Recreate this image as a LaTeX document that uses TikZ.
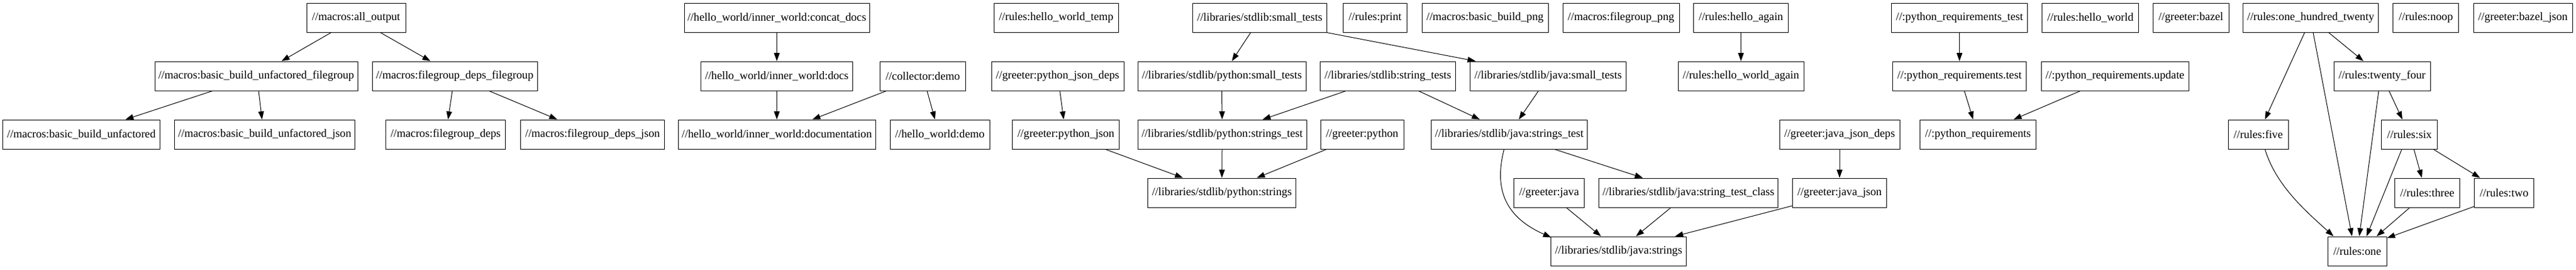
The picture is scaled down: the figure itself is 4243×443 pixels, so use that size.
\documentclass[tikz,border=0pt]{standalone}
\usepackage{fontspec}
\setmainfont{Liberation Serif}
\usetikzlibrary{arrows.meta}
\begin{document}
\begin{tikzpicture}[x=0.75pt,y=-0.75pt,
  box/.style={draw, line width=0.75pt, rectangle, minimum height=36pt, inner xsep=3pt, inner ysep=0pt, font=\fontsize{14}{16}\selectfont, anchor=center},
  bw/.style={minimum width=#1*0.75pt},
  arr/.style={-{Triangle[length=10pt,width=7pt]}, line width=0.75pt}]
\fill[white] (0,0) rectangle (4243,443);
\useasboundingbox (0,0) rectangle (4243,443);
% Row 1
\node[box,bw=163] (ao) at (586.5,29) {//macros:all\_output};
\node[box,bw=305] (cd) at (1279.5,29) {//hello\_world/inner\_world:concat\_docs};
\node[box,bw=205] (hwt) at (1739.6,29) {//rules:hello\_world\_temp};
\node[box,bw=221] (st) at (2075,29) {//libraries/stdlib:small\_tests};
\node[box,bw=105.6] (print) at (2265,29) {//rules:print};
\node[box,bw=208] (bbp) at (2446,29) {//macros:basic\_build\_png};
\node[box,bw=192] (fgp) at (2670,29) {//macros:filegroup\_png};
\node[box,bw=156] (ha) at (2867.5,29) {//rules:hello\_again};
\node[box,bw=224.5] (prt) at (3227.5,29) {//:python\_requirements\_test};
\node[box,bw=159] (hw) at (3443,29) {//rules:hello\_world};
\node[box,bw=124.6] (gb) at (3608.7,29) {//greeter:bazel};
\node[box,bw=223.7] (oht) at (3806,29) {//rules:one\_hundred\_twenty};
\node[box,bw=108] (noop) at (3995.7,29) {//rules:noop};
\node[box,bw=163] (gbj) at (4155.5,29) {//greeter:bazel\_json};
% Row 2
\node[box,bw=334] (bbuf) at (422,125) {//macros:basic\_build\_unfactored\_filegroup};
\node[box,bw=272] (fdf) at (749,125) {//macros:filegroup\_deps\_filegroup};
\node[box,bw=250] (docs) at (1279.5,125) {//hello\_world/inner\_world:docs};
\node[box,bw=140.5] (coll) at (1520,125) {//collector:demo};
\node[box,bw=218] (pjd) at (1742,125) {//greeter:python\_json\_deps};
\node[box,bw=277] (pst) at (2012.5,125) {//libraries/stdlib/python:small\_tests};
\node[box,bw=222.7] (strt) at (2286,125) {//libraries/stdlib:string\_tests};
\node[box,bw=256.7] (jst) at (2550,125) {//libraries/stdlib/java:small\_tests};
\node[box,bw=207] (hwa) at (2867.5,125) {//rules:hello\_world\_again};
\node[box,bw=220] (prtest) at (3227.5,125) {//:python\_requirements.test};
\node[box,bw=243] (pru) at (3483.6,125) {//:python\_requirements.update};
\node[box,bw=159] (tf) at (3923.6,125) {//rules:twenty\_four};
% Row 3
\node[box,bw=259] (bbu) at (134,221) {//macros:basic\_build\_unfactored};
\node[box,bw=297.5] (bbuj) at (436,221) {//macros:basic\_build\_unfactored\_json};
\node[box,bw=197.5] (fd) at (734,221) {//macros:filegroup\_deps};
\node[box,bw=236.5] (fdj) at (976,221) {//macros:filegroup\_deps\_json};
\node[box,bw=325] (doc) at (1279.5,221) {//hello\_world/inner\_world:documentation};
\node[box,bw=164] (hwd) at (1548,221) {//hello\_world:demo};
\node[box,bw=176] (pj) at (1755.6,221) {//greeter:python\_json};
\node[box,bw=278] (pystt) at (2013,221) {//libraries/stdlib/python:strings\_test};
\node[box,bw=137] (gp) at (2243.6,221) {//greeter:python};
\node[box,bw=257.6] (jstt) at (2486,221) {//libraries/stdlib/java:strings\_test};
\node[box,bw=198] (jjd) at (3030,221) {//greeter:java\_json\_deps};
\node[box,bw=190.5] (pr) at (3258,221) {//:python\_requirements};
\node[box,bw=99] (five) at (3719.6,221) {//rules:five};
\node[box,bw=92] (six) at (3968.7,221) {//rules:six};
% Row 4
\node[box,bw=243.6] (pys) at (2012.6,317) {//libraries/stdlib/python:strings};
\node[box,bw=116] (gj) at (2551.5,317) {//greeter:java};
\node[box,bw=294.6] (stc) at (2781,317) {//libraries/stdlib/java:string\_test\_class};
\node[box,bw=155.6] (jj) at (3030,317) {//greeter:java\_json};
\node[box,bw=107.6] (three) at (3998,317) {//rules:three};
\node[box,bw=97.6] (two) at (4124.6,317) {//rules:two};
% Row 5
\node[box,bw=223] (js) at (2666,413) {//libraries/stdlib/java:strings};
\node[box,bw=97] (one) at (3882.6,413) {//rules:one};
% Edges
\draw[arr] ([shift={(-41,0)}]ao.south) -- ([shift={(41.7,0)}]bbuf.north);
\draw[arr] ([shift={(40,0)}]ao.south) -- ([shift={(-40,0)}]fdf.north);
\draw[arr] ([shift={(-72,0)}]bbuf.south) -- ([shift={(72.6,0)}]bbu.north);
\draw[arr] ([shift={(4,0)}]bbuf.south) -- ([shift={(-4.4,0)}]bbuj.north);
\draw[arr] ([shift={(-4,0)}]fdf.south) -- ([shift={(4,0)}]fd.north);
\draw[arr] ([shift={(56.6,0)}]fdf.south) -- ([shift={(-58,0)}]fdj.north);
\draw[arr] (cd.south) -- (docs.north);
\draw[arr] (docs.south) -- (doc.north);
\draw[arr] ([shift={(-60,0)}]coll.south) -- ([shift={(58.5,0)}]doc.north);
\draw[arr] ([shift={(7,0)}]coll.south) -- ([shift={(-8,0)}]hwd.north);
\draw[arr] ([shift={(3.7,0)}]pjd.south) -- ([shift={(-3.6,0)}]pj.north);
\draw[arr] ([shift={(65,0)}]pj.south) -- ([shift={(-64,0)}]pys.north);
\draw[arr] ([shift={(-15,0)}]st.south) -- ([shift={(16.5,0)}]pst.north);
\draw[arr] ([shift={(110,0)}]st.south) -- ([shift={(-119.4,0)}]jst.north);
\draw[arr] (pst.south) -- (pystt.north);
\draw[arr] ([shift={(-69,0)}]strt.south) -- ([shift={(66.5,0)}]pystt.north);
\draw[arr] ([shift={(50.5,0)}]strt.south) -- ([shift={(-48.5,0)}]jstt.north);
\draw[arr] ([shift={(-16,0)}]jst.south) -- ([shift={(15.7,0)}]jstt.north);
\draw[arr] (pystt.south) -- (pys.north);
\draw[arr] ([shift={(-58.6,0)}]gp.south) -- ([shift={(57.4,0)}]pys.north);
\draw[arr] ([shift={(-8.6,0)}]jstt.south) .. controls +(-18,70) and +(-72,-32) .. ([shift={(1,2)}]js.north west);
\draw[arr] ([shift={(74.5,0)}]jstt.south) -- ([shift={(-75,0)}]stc.north);
\draw[arr] ([shift={(28.5,0)}]gj.south) -- ([shift={(-29,0)}]js.north);
\draw[arr] ([shift={(-29,0)}]stc.south) -- ([shift={(28.6,0)}]js.north);
\draw[arr] ([shift={(0,-3)}]jj.south west) -- ([shift={(93,0)}]js.north);
\draw[arr] (ha.south) -- (hwa.north);
\draw[arr] (prt.south) -- (prtest.north);
\draw[arr] ([shift={(8,0)}]prtest.south) -- ([shift={(-8,0)}]pr.north);
\draw[arr] ([shift={(-57,0)}]pru.south) -- ([shift={(58.5,0)}]pr.north);
\draw[arr] (jjd.south) -- (jj.north);
\draw[arr] ([shift={(-10,0)}]oht.south) -- ([shift={(11,0)}]five.north);
\draw[arr] ([shift={(4,0)}]oht.south) -- ([shift={(-8.6,0)}]one.north);
\draw[arr] ([shift={(29.5,0)}]oht.south) -- ([shift={(-30.6,0)}]tf.north);
\draw[arr] ([shift={(-5.6,0)}]tf.south) -- ([shift={(3.4,0)}]one.north);
\draw[arr] ([shift={(11.4,0)}]tf.south) -- ([shift={(-11.7,0)}]six.north);
\draw[arr] ([shift={(11,0)}]five.south) .. controls +(18,58) and +(-50,-45) .. ([shift={(-39,0)}]one.north);
\draw[arr] ([shift={(-12.7,0)}]six.south) -- ([shift={(15.4,0)}]one.north);
\draw[arr] ([shift={(7.3,0)}]six.south) -- ([shift={(-9,0)}]three.north);
\draw[arr] ([shift={(39.3,0)}]six.south) -- ([shift={(-39.6,0)}]two.north);
\draw[arr] ([shift={(-29,0)}]three.south) -- ([shift={(32,0)}]one.north);
\draw[arr] ([shift={(0,-2)}]two.south west) -- ([shift={(0,3)}]one.north east);
\end{tikzpicture}
\end{document}
